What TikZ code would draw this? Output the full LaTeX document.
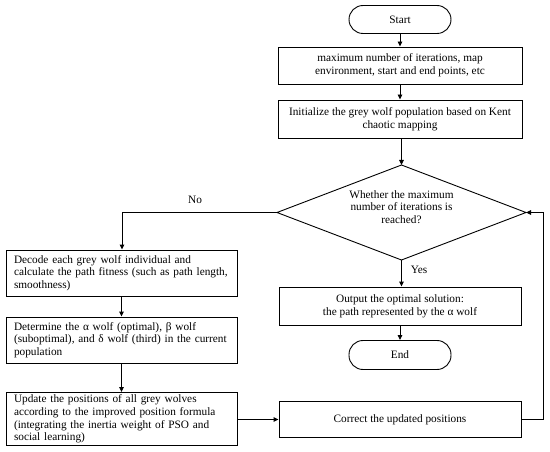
\documentclass[tikz,border=0pt]{standalone}
\usepackage{fontspec}
\setmainfont{Liberation Serif}
\usetikzlibrary{arrows.meta,shapes.geometric,positioning}
\begin{document}
\begin{tikzpicture}[x=1pt,y=-1pt,
  every node/.style={font=\fontsize{11.3}{12.6}\selectfont},
  box/.style={draw,line width=0.9pt,inner sep=0pt,align=center},
  lbox/.style={draw,line width=0.9pt,inner sep=0pt,align=left},
  term/.style={draw,line width=0.9pt,rounded corners=14pt,inner sep=0pt},
  arr/.style={line width=0.9pt,-{Triangle[length=5pt,width=4.5pt]}},
  ln/.style={line width=0.9pt}]
\useasboundingbox (0,0) rectangle (550,452);
\node[term,minimum width=102pt,minimum height=28pt] (start) at (400,19.5) {Start};
\node[box,minimum width=244pt,minimum height=37pt] (b1) at (400,65.5) {maximum number of iterations, map\\environment, start and end points, etc};
\node[box,minimum width=244pt,minimum height=38pt] (b2) at (400,119) {Initialize the grey wolf population based on Kent\\chaotic mapping};
\path[draw,line width=0.9pt] (401.5,165) coordinate (dtop) -- (526,212.5) coordinate (dright) -- (401.5,260) coordinate (dbot) -- (277,212.5) coordinate (dleft) -- cycle;
\node[align=center] (dtext) at (401.5,207) {Whether the maximum\\number of iterations is\\reached?};
\node[box,minimum width=242pt,minimum height=38pt] (out) at (400,306) {Output the optimal solution:\\the path represented by the α wolf};
\node[term,minimum width=102pt,minimum height=29pt] (end) at (400,355) {End};
\node[box,minimum width=242pt,minimum height=36pt] (corr) at (400,419.5) {Correct the updated positions};
\node[lbox,minimum width=231pt,minimum height=46pt,text width=215pt] (dec1) at (121.5,273) {Decode each grey wolf individual and\\calculate the path fitness (such as path length,\\smoothness)};
\node[lbox,minimum width=231pt,minimum height=46pt,text width=215pt] (det) at (121.5,340) {Determine the α wolf (optimal), β wolf\\(suboptimal), and δ wolf (third) in the current\\population};
\node[lbox,minimum width=231pt,minimum height=53pt,text width=215pt] (upd) at (121.5,419) {Update the positions of all grey wolves\\according to the improved position formula\\(integrating the inertia weight of PSO and\\social learning)};
\node (no) at (195,200) {No};
\node (yes) at (419,270) {Yes};
\draw[arr] (start) -- (b1);
\draw[arr] (b1) -- (b2);
\draw[arr] (b2.south -| dtop) -- (dtop);
\draw[arr] (dbot) -- (out.north -| dbot);
\draw[arr] (out) -- (end);
\draw[arr] (dleft) -- (122,212.5) -- (dec1.north -| 122,0);
\draw[arr] (dec1) -- (det);
\draw[arr] (det) -- (upd);
\draw[arr] (upd.east |- corr) -- (corr.west);
\draw[arr] (corr.east) -- (543,419.5) -- (543,212.5) -- (dright);
\end{tikzpicture}
\end{document}
